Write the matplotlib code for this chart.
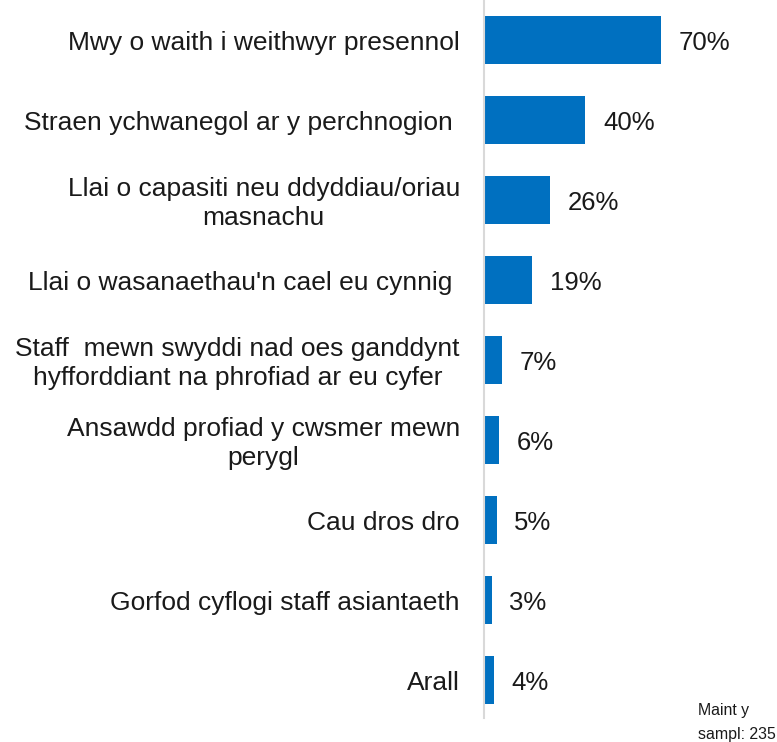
import matplotlib.pyplot as plt

plt.rcParams['font.family'] = ['Liberation Sans', 'DejaVu Sans']

categories = [
    "Mwy o waith i weithwyr presennol",
    "Straen ychwanegol ar y perchnogion ",
    "Llai o capasiti neu ddyddiau/oriau\nmasnachu",
    "Llai o wasanaethau'n cael eu cynnig ",
    "Staff  mewn swyddi nad oes ganddynt\nhyfforddiant na phrofiad ar eu cyfer",
    "Ansawdd profiad y cwsmer mewn\nperygl",
    "Cau dros dro",
    "Gorfod cyflogi staff asiantaeth",
    "Arall",
]
values = [70, 40, 26, 19, 7, 6, 5, 3, 4]
note = "Maint y\nsampl: 235"

fig = plt.figure(figsize=(7.77, 7.42), dpi=100)
ax = fig.add_axes([484 / 777, 1 - 718 / 742, 1 - 484 / 777, 718 / 742])

pos = list(range(len(values)))
ax.barh(pos, values, height=0.59, color='#0070C0')
ax.set_xlim(0, 115.8)
ax.set_ylim(8.475, -0.5)

for p, v, c in zip(pos, values, categories):
    ax.text(v + 7, p + 0.04, f"{v}%", va='center', ha='left', fontsize=18.5, color='#1a1a1a')
    ax.text(-9.5, p + 0.04, c, va='center', ha='right', multialignment='center',
            fontsize=19, color='#1a1a1a', linespacing=1.25)

for s in ['top', 'right', 'bottom']:
    ax.spines[s].set_visible(False)
ax.spines['left'].set_color('#d9d9d9')
ax.spines['left'].set_linewidth(1.5)
ax.set_xticks([])
ax.set_yticks([])

fig.text(698 / 777, 1 - 723 / 742, note, fontsize=11.4, va='center', ha='left',
         color='#1a1a1a', linespacing=1.75)

fig.savefig('out.png', dpi=100)
